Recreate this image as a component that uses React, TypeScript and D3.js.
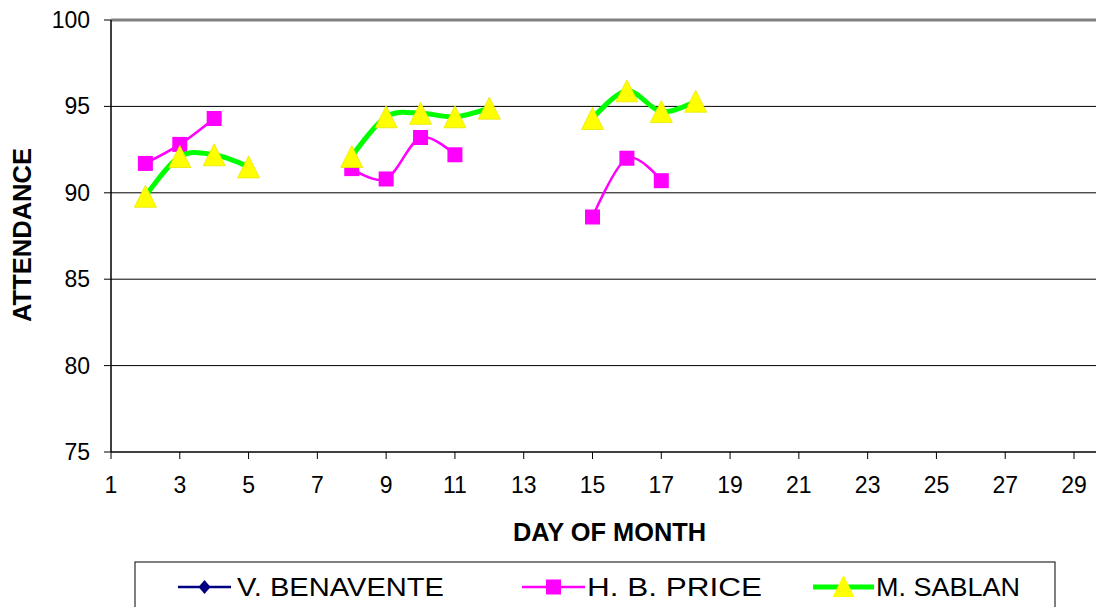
import * as d3 from "d3"

// day of month -> attendance, null where no value was recorded
const days = d3.range(1, 31)
const benavente: (number | null)[] = days.map(() => null)
const price: (number | null)[] = [
  null, 91.7, 92.8, 94.3, null, null, null, 91.4, 90.8, 93.2,
  92.2, null, null, null, 88.6, 92.0, 90.7, null, null, null,
  null, null, null, null, null, null, null, null, null, null,
]
const sablan: (number | null)[] = [
  null, 89.8, 92.1, 92.2, 91.5, null, null, 92.1, 94.4, 94.6,
  94.4, 94.9, null, null, 94.3, 95.9, 94.7, 95.3, null, null,
  null, null, null, null, null, null, null, null, null, null,
]
const xTicks = d3.range(1, 30, 2)
const yTicks = [75, 80, 85, 90, 95, 100]

const W = 1096
const H = 607
const font = "'Liberation Sans', Arial, sans-serif"

export default function App() {
  const x = d3.scaleLinear().domain([1, 29]).range([111, 1074])
  const y = d3.scaleLinear().domain([75, 100]).range([452, 20])
  const xEnd = x(30)

  const toPts = (vals: (number | null)[]) => days.map((d, i) => ({ d, v: vals[i] }))
  const line = d3
    .line<{ d: number; v: number | null }>()
    .defined((p) => p.v !== null)
    .x((p) => x(p.d))
    .y((p) => y(p.v as number))
    .curve(d3.curveCardinal.tension(0))

  const tri = (cx: number, cy: number, s = 22) =>
    `M${cx},${cy - s / 2}L${cx + s / 2},${cy + s / 2}L${cx - s / 2},${cy + s / 2}Z`

  const legendY = 587
  const legendItems = [
    { label: "V. BENAVENTE", x1: 178, x2: 231, tx: 237, len: 207, color: "#000080", w: 2.5, mk: "diamond" },
    { label: "H. B. PRICE", x1: 522, x2: 585, tx: 587, len: 175, color: "#FF00FF", w: 2.5, mk: "square" },
    { label: "M. SABLAN", x1: 813, x2: 874, tx: 876, len: 144, color: "#00FF00", w: 5, mk: "triangle" },
  ]

  return (
    <svg
      width={W}
      height={H}
      style={{ position: "absolute", left: 0, top: 0, background: "#fff" }}
      fontFamily={font}
    >
      {/* grid */}
      {yTicks.slice(1, -1).map((t) => (
        <line key={t} x1={x(1)} x2={xEnd} y1={y(t)} y2={y(t)} stroke="#000" strokeWidth={1} />
      ))}
      <line x1={x(1)} x2={xEnd} y1={y(100)} y2={y(100)} stroke="#808080" strokeWidth={3} />

      {/* axes */}
      <line x1={x(1)} x2={x(1)} y1={y(100)} y2={y(75)} stroke="#000" strokeWidth={1.5} />
      <line x1={x(1)} x2={xEnd} y1={y(75)} y2={y(75)} stroke="#000" strokeWidth={1.5} />
      {yTicks.map((t) => (
        <g key={t}>
          <line x1={x(1) - 7} x2={x(1)} y1={y(t)} y2={y(t)} stroke="#000" />
          <text x={90} y={y(t)} dy="0.35em" textAnchor="end" fontSize={23}>
            {t}
          </text>
        </g>
      ))}
      {xTicks.map((t) => (
        <g key={t}>
          <line x1={x(t)} x2={x(t)} y1={y(75)} y2={y(75) + 7} stroke="#000" />
          <text x={x(t)} y={493} textAnchor="middle" fontSize={23}>
            {t}
          </text>
        </g>
      ))}
      <text
        x={513}
        y={541}
        fontSize={25}
        fontWeight="bold"
        textLength={193}
        lengthAdjust="spacingAndGlyphs"
      >
        DAY OF MONTH
      </text>
      <text
        transform={`translate(31,322) rotate(-90)`}
        fontSize={25}
        fontWeight="bold"
        textLength={174}
        lengthAdjust="spacingAndGlyphs"
      >
        ATTENDANCE
      </text>

      {/* series */}
      <path d={line(toPts(benavente)) || ""} fill="none" stroke="#000080" strokeWidth={2.5} />
      <path d={line(toPts(price)) || ""} fill="none" stroke="#FF00FF" strokeWidth={2.5} />
      {toPts(price)
        .filter((p) => p.v !== null)
        .map((p) => (
          <rect key={p.d} x={x(p.d) - 7.5} y={y(p.v as number) - 7.5} width={15} height={15} fill="#FF00FF" />
        ))}
      <path d={line(toPts(sablan)) || ""} fill="none" stroke="#00FF00" strokeWidth={5} />
      {toPts(sablan)
        .filter((p) => p.v !== null)
        .map((p) => (
          <path key={p.d} d={tri(x(p.d), y(p.v as number))} fill="#FFFF00" stroke="#E8E800" strokeWidth={0.8} />
        ))}

      {/* legend */}
      <rect x={135} y={562} width={920} height={60} fill="#fff" stroke="#000" strokeWidth={1} />
      {legendItems.map((it) => {
        const cx = (it.x1 + it.x2) / 2
        return (
          <g key={it.label}>
            <line x1={it.x1} x2={it.x2} y1={legendY} y2={legendY} stroke={it.color} strokeWidth={it.w} />
            {it.mk === "diamond" && (
              <path d={`M${cx},${legendY - 7}L${cx + 6},${legendY}L${cx},${legendY + 7}L${cx - 6},${legendY}Z`} fill="#000080" />
            )}
            {it.mk === "square" && <rect x={cx - 7.5} y={legendY - 7.5} width={15} height={15} fill="#FF00FF" />}
            {it.mk === "triangle" && <path d={tri(cx, legendY - 1)} fill="#FFFF00" />}
            <text
              x={it.tx}
              y={legendY}
              dy="0.36em"
              fontSize={26}
              textLength={it.len}
              lengthAdjust="spacingAndGlyphs"
            >
              {it.label}
            </text>
          </g>
        )
      })}
    </svg>
  )
}
